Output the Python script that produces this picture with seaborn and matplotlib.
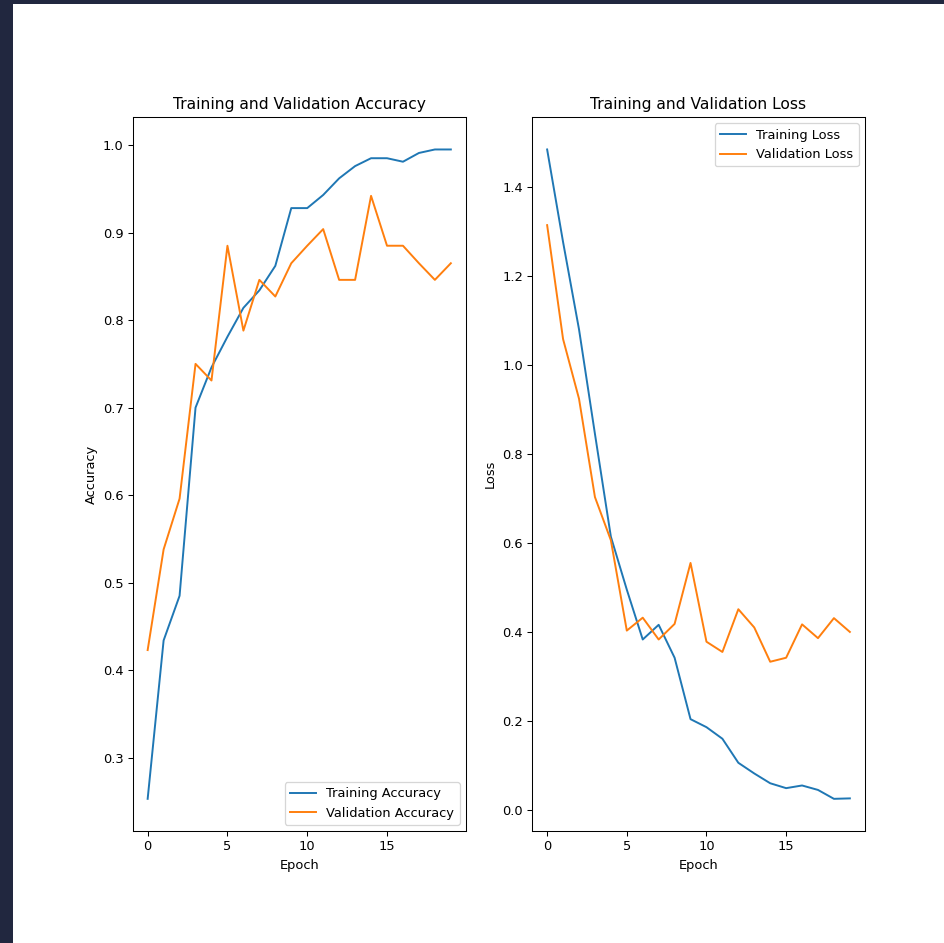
# -*- coding: utf-8 -*-
# training / validation curves
import pandas as pd
import seaborn as sns
from matplotlib import pyplot as plt
from matplotlib.patches import Rectangle

epochs = list(range(20))
acc = [0.253, 0.434, 0.485, 0.700, 0.746, 0.781, 0.814, 0.834, 0.862, 0.928,
       0.928, 0.943, 0.962, 0.976, 0.985, 0.985, 0.981, 0.991, 0.995, 0.995]
val_acc = [0.423, 0.538, 0.596, 0.750, 0.731, 0.885, 0.788, 0.846, 0.827, 0.865,
           0.885, 0.904, 0.846, 0.846, 0.942, 0.885, 0.885, 0.865, 0.846, 0.865]
loss = [1.484, 1.276, 1.080, 0.845, 0.614, 0.495, 0.383, 0.416, 0.342, 0.204,
        0.186, 0.160, 0.106, 0.082, 0.060, 0.049, 0.055, 0.045, 0.025, 0.026]
val_loss = [1.314, 1.058, 0.924, 0.703, 0.606, 0.403, 0.432, 0.383, 0.418, 0.555,
            0.378, 0.355, 0.451, 0.410, 0.333, 0.342, 0.417, 0.386, 0.431, 0.400]
xticks = [0, 5, 10, 15]

df = pd.DataFrame({'epoch': epochs, 'acc': acc, 'val_acc': val_acc,
                   'loss': loss, 'val_loss': val_loss})

dpi = 93.3
fig = plt.figure(figsize=(944 / dpi, 943 / dpi), dpi=dpi)
fig.patch.set_facecolor('white')

# dark frame of the screenshot
fig.add_artist(Rectangle((0, 0), 13 / 944, 1, transform=fig.transFigure, color='#21273f', lw=0))
fig.add_artist(Rectangle((0, 1 - 4 / 943), 1, 4 / 943, transform=fig.transFigure, color='#21273f', lw=0))

ax1 = fig.add_axes([132.5 / 944, 1 - 831.3 / 943, 333.5 / 944, 714.3 / 943])
ax2 = fig.add_axes([532 / 944, 1 - 831.3 / 943, 333 / 944, 714.3 / 943])

sns.lineplot(data=df, x='epoch', y='acc', ax=ax1, label='Training Accuracy')
sns.lineplot(data=df, x='epoch', y='val_acc', ax=ax1, label='Validation Accuracy')
ax1.legend(loc='lower right')
ax1.set_title('Training and Validation Accuracy')
ax1.set_xlabel('Epoch')
ax1.set_ylabel('Accuracy')
ax1.set_xticks(xticks)

sns.lineplot(data=df, x='epoch', y='loss', ax=ax2, label='Training Loss')
sns.lineplot(data=df, x='epoch', y='val_loss', ax=ax2, label='Validation Loss')
ax2.legend(loc='upper right')
ax2.set_title('Training and Validation Loss')
ax2.set_xlabel('Epoch')
ax2.set_ylabel('Loss')
ax2.set_xticks(xticks)

fig.savefig('out.png', dpi=dpi)
